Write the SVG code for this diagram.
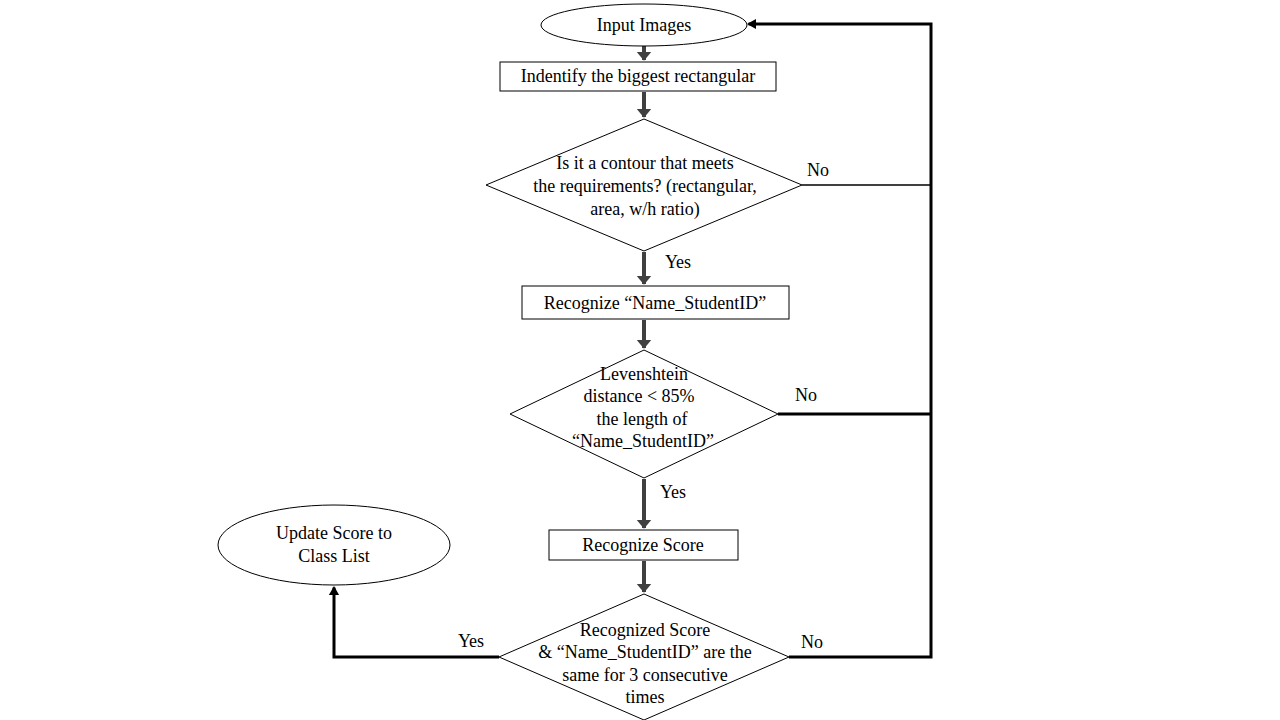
<svg xmlns="http://www.w3.org/2000/svg" width="1280" height="720" viewBox="0 0 1280 720">
<style>
.shape{fill:#fff;stroke:#000;stroke-width:1}
text{font-family:"Liberation Serif","Times New Roman",serif;font-size:18px;fill:#000;text-anchor:middle}
.flow{stroke:#404040;stroke-width:4;fill:none}
.loop{stroke:#000;stroke-width:3;fill:none}
.thin{stroke:#404040;stroke-width:2;fill:none}
</style>
<defs>
<marker id="ag" markerWidth="4" markerHeight="4" refX="2" refY="2" orient="auto" markerUnits="strokeWidth"><path d="M0,0.2 L2.2,2 L0,3.8 z" fill="#404040"/></marker>
<marker id="ab" markerWidth="4" markerHeight="4" refX="2.5" refY="2" orient="auto" markerUnits="strokeWidth"><path d="M0,0.3 L3,2 L0,3.7 z" fill="#000"/></marker>
</defs>
<rect width="1280" height="720" fill="#fff"/>
<g id="connectors">
<line class="flow" x1="644" y1="46" x2="644" y2="60" marker-end="url(#ag)"/>
<line class="flow" x1="644" y1="92" x2="644" y2="117" marker-end="url(#ag)"/>
<line class="flow" x1="644" y1="252" x2="644" y2="284" marker-end="url(#ag)"/>
<line class="flow" x1="644" y1="320" x2="644" y2="348" marker-end="url(#ag)"/>
<line class="flow" x1="644" y1="479" x2="644" y2="528" marker-end="url(#ag)"/>
<line class="flow" x1="644" y1="561" x2="644" y2="592" marker-end="url(#ag)"/>
<line class="thin" x1="802" y1="185" x2="931" y2="185"/>
<line class="loop" x1="778" y1="414" x2="931" y2="414"/>
<polyline class="loop" points="789,657 931,657 931,24 748.5,24" marker-end="url(#ab)"/>
<polyline class="loop" points="499,657 334,657 334,587.5" marker-end="url(#ab)"/>
<text x="818" y="176">No</text>
<text x="806" y="401">No</text>
<text x="812" y="648">No</text>
<text x="678" y="268">Yes</text>
<text x="673" y="498">Yes</text>
<text x="471" y="647">Yes</text>
</g>
<g id="input-images">
<ellipse class="shape" cx="644" cy="25" rx="103" ry="21"/>
<text x="644" y="31">Input Images</text>
</g>
<g id="identify-rect">
<rect class="shape" x="500" y="62" width="276" height="29"/>
<text x="638" y="82">Indentify the biggest rectangular</text>
</g>
<g id="contour-check">
<polygon class="shape" points="644,119 802,185 644,251 486,185"/>
<text x="645" y="169">Is it a contour that meets</text>
<text x="645" y="192">the requirements? (rectangular,</text>
<text x="645" y="215">area, w/h ratio)</text>
</g>
<g id="recognize-name">
<rect class="shape" x="522" y="286" width="267" height="33"/>
<text x="655" y="309">Recognize “Name_StudentID”</text>
</g>
<g id="levenshtein-check">
<polygon class="shape" points="644,350 778,414 644,478 510,414"/>
<text x="644" y="380">Levenshtein</text>
<text x="639" y="402">distance &lt; 85%</text>
<text x="642" y="425">the length of</text>
<text x="643" y="447">“Name_StudentID”</text>
</g>
<g id="recognize-score">
<rect class="shape" x="549" y="530" width="189" height="30"/>
<text x="643" y="551">Recognize Score</text>
</g>
<g id="consecutive-check">
<polygon class="shape" points="644,594 789,657 644,720 499,657"/>
<text x="645" y="636">Recognized Score</text>
<text x="645" y="658">&amp; “Name_StudentID” are the</text>
<text x="645" y="681">same for 3 consecutive</text>
<text x="645" y="703">times</text>
</g>
<g id="update-score">
<ellipse class="shape" cx="334" cy="545" rx="116" ry="40"/>
<text x="334" y="539">Update Score to</text>
<text x="334" y="562">Class List</text>
</g>
</svg>
